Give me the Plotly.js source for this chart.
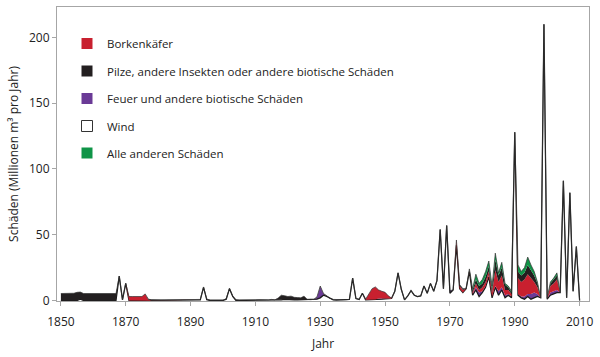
<!DOCTYPE html>
<html>
<head>
<meta charset="utf-8">
<script src="https://cdn.plot.ly/plotly-3.0.1.min.js"></script>
<style>
html,body{margin:0;padding:0;background:#fff;}
#chart{width:600px;height:357px;}
</style>
</head>
<body>
<div id="chart"></div>
<script>
// Years 1850 - 2010
var years = [
1850,1851,1852,1853,1854,1855,1856,1857,1858,1859,
1860,1861,1862,1863,1864,1865,1866,1867,1868,1869,
1870,1871,1872,1873,1874,1875,1876,1877,1878,1879,
1880,1881,1882,1883,1884,1885,1886,1887,1888,1889,
1890,1891,1892,1893,1894,1895,1896,1897,1898,1899,
1900,1901,1902,1903,1904,1905,1906,1907,1908,1909,
1910,1911,1912,1913,1914,1915,1916,1917,1918,1919,
1920,1921,1922,1923,1924,1925,1926,1927,1928,1929,
1930,1931,1932,1933,1934,1935,1936,1937,1938,1939,
1940,1941,1942,1943,1944,1945,1946,1947,1948,1949,
1950,1951,1952,1953,1954,1955,1956,1957,1958,1959,
1960,1961,1962,1963,1964,1965,1966,1967,1968,1969,
1970,1971,1972,1973,1974,1975,1976,1977,1978,1979,
1980,1981,1982,1983,1984,1985,1986,1987,1988,1989,
1990,1991,1992,1993,1994,1995,1996,1997,1998,1999,
2000,2001,2002,2003,2004,2005,2006,2007,2008,2009,2010];

// Wind (bottom of the stack)
var wind = [
0,0,0,0,0,0,1,0,0,0,
0,0,0,0,0,0,0,0,18.5,0.5,
13,0,0,0,0,0,0.5,0,0,0,
0,0,0,0,0,0,0,0,0,0,
0,0,0,0.5,10,0.5,0,0,0,0,
0,1,9,3,0,0,0,0,0,0,
0,0,0,0,0,0,0,0.3,0.5,0.8,
0.5,0.5,0.4,0.4,0.5,0.5,0.3,0.3,0.5,1,
2,4,3,1.5,0.5,0.3,0.3,0.3,0.3,0.8,
17,1.5,0.8,5.5,0.5,0.5,0.5,0.8,1,1,
1.2,1.2,1.5,7,21,8.5,0.5,3.5,7.5,4,
3,3.5,11,5.5,13,7,15,54,9,57,
5.5,8,42,9,6,9,22,4,8,3,
6,10,18,2,10,4,8,2,4,2,
128,4,2,1,3,1,2,3,2,210,
1,4,5,6,6,91,2,82,7,41,0];

// Feuer und andere biotische Schäden
var feuer = [
0,0,0,0,0,0,0,0,0,0,
0,0,0,0,0,0,0,0,0,0,
0,0,0,0,0,0,0,0,0,0,
0,0,0,0,0,0,0,0,0,0,
0,0,0,0,0,0,0,0,0,0,
0,0,0,0,0,0,0,0,0,0,
0,0,0,0,0,0,0,0,0,0,
0,0,0,0,0,0,0,0,0,1.5,
8.5,1,0,0,0,0,0,0,0,0,
0,0,0,0,0,0,0,0,0.5,0.5,
0.5,0.3,0,0,0,0,0,0,0,0,
0,0,0,0,0,0,0,0,0,0,
2,0,0,0,0,0,0.5,1,2,3,
1,1,1,1,1,3,2,2,1,1,
0,1,1,2,2,4,4,2,0,0,
0.5,2,2,2,0,0,0,0,0,0,0];

// Borkenkäfer
var borken = [
0,0,0,0,0,0,0,0,0,0,
0,0,0,0,0,0,0,0,0,0,
0,3,3,3,3,3,4.5,0.5,0,0,
0,0,0,0,0,0,0,0,0,0,
0,0,0,0,0,0,0,0,0,0,
0,0,0,0,0,0,0,0,0,0,
0,0,0,0,0,0,0,0,0,0,
0,0,0,0,0,0,0,0,0,0,
0,0,0,0,0,0,0,0,0,0,
0,0,0,0,0.5,5,8.5,9.5,6.5,5.5,
4.5,2,0.3,0,0,0,0,0,0,0,
0,0,0,0,0,0,0,0,0,0,
0,0,4,2,2,0,0.5,1,3,2,
3,3,3,3,12,7,9,4,3,2,
0,12,11,13,15,12,8,5,0,0,
0.3,5,6,8,0,0,0,0,0,0,0];

// Pilze, andere Insekten oder andere biotische Schäden
var pilze = [
5.3,5.3,5.4,5.4,5.5,6.2,5.4,5.3,5.3,5.3,
5.3,5.3,5.3,5.3,5.3,5.3,5.3,5.3,0,0,
0,0,0,0,0,0,0,0.5,0.5,0.3,
0.3,0.3,0.3,0.3,0.3,0.3,0.6,0.3,0.5,0.4,
0.8,0.6,0.4,0.3,0.3,0.6,0.3,0.4,0.3,0.4,
0.3,0.3,0.3,0.5,0.6,0.4,0.3,0.4,0.5,0.3,
0.4,0.5,0.3,0.3,0.4,0.8,0.5,1.5,3.5,2.8,
2.5,2.8,2,1.8,1.5,2.8,0.5,0.3,0.3,0.3,
0.5,0.3,0.3,0.3,0.3,0.3,0.3,0.3,0.3,0,
0,0,0,0,0,0,0,0,0,0,
0,0,0,0,0,0,0,0,0,0,
0,0,0,0,0,0,0,0,0,0,
0,0,0,1,1,0,0.5,2,3,3,
3,4,4,3,8,5,6,4,2,1,
0,5,5,5,7,6,5,3,0,0,
0.2,2,3,3,0,0,0,0,0,0,0];

// Alle anderen Schäden
var andere = [
0,0,0,0,0,0,0,0,0,0,
0,0,0,0,0,0,0,0,0,0,
0,0,0,0,0,0,0,0,0,0,
0,0,0,0,0,0,0,0,0,0,
0,0,0,0,0,0,0,0,0,0,
0,0,0,0,0,0,0,0,0,0,
0,0,0,0,0,0,0,0,0,0,
0,0,0,0,0,0,0,0,0,0,
0,0,0,0,0,0,0,0,0,0,
0,0,0,0,0,0,0,0,0,0,
0,0,0,0,0,0,0,0,0,0,
0,0,0,0,0,0,0,0,0,0,
0,0,0,0,0,0,0.5,1,4,2,
3,4,4,2,5,2,4,1,1,1,
0,5,3,4,6,4,3,1,0,0,
0,1,1,2,0,0,0,0,0,0,0];

var xTicks = [1850,1870,1890,1910,1930,1950,1970,1990,2010];
var yTicks = [0,50,100,150,200];

var legendNames = ['Borkenkäfer','Pilze, andere Insekten oder andere biotische Schäden','Feuer und andere biotische Schäden','Wind','Alle anderen Schäden'];

var C_RED = '#c8202f', C_BLACK = '#231f20', C_PURPLE = '#6a3a96', C_GREEN = '#0f9447';
var FONT = 'Open Sans, Noto Sans, DejaVu Sans, sans-serif';
var FS = 11.5;

function area(y, name, fill, lw, lc) {
  return {x: years, y: y, name: name, type: 'scatter', mode: 'lines', stackgroup: 'one',
          line: {color: lc, width: lw, shape: 'linear'}, fillcolor: fill, showlegend: false, hoverinfo: 'skip'};
}

var data = [
  area(wind, 'Wind', '#ffffff', 1.25, '#1a1a1a'),
  area(feuer, 'Feuer und andere biotische Schäden', C_PURPLE, 0, C_PURPLE),
  area(borken, 'Borkenkäfer', C_RED, 0, C_RED),
  area(pilze, 'Pilze, andere Insekten oder andere biotische Schäden', C_BLACK, 0, C_BLACK),
  area(andere, 'Alle anderen Schäden', C_GREEN, 0.7, '#333333')
];

// plot area in pixels
var L = 57, R = 589, T = 7, B = 301;
function px(x){ return (x - L) / (R - L); }
function py(y){ return (B - y) / (B - T); }

var legColors = [C_RED, C_BLACK, C_PURPLE, '#ffffff', C_GREEN];
var legY = [43.5, 71, 98.5, 126, 153];
var shapes = [], annotations = [];
for (var i = 0; i < legendNames.length; i++) {
  shapes.push({type:'rect', xref:'paper', yref:'paper',
    x0: px(81.5), x1: px(92.5), y0: py(legY[i] + 5.5), y1: py(legY[i] - 5.5),
    fillcolor: legColors[i], line: {color: i === 3 ? '#333' : legColors[i], width: i === 3 ? 1 : 0}});
  annotations.push({xref:'paper', yref:'paper', x: px(105), y: py(legY[i]), xanchor:'left', yanchor:'middle',
    text: legendNames[i], showarrow:false, font:{family: FONT, size: FS, color:'#222'}});
}

var layout = {
  width: 600, height: 357,
  margin: {l: L, r: 600 - R, t: T, b: 357 - B},
  paper_bgcolor: '#ffffff', plot_bgcolor: '#ffffff',
  font: {family: FONT, size: FS, color: '#222'},
  showlegend: false,
  xaxis: {range: [1848.8, 2012.9], tickvals: xTicks, ticktext: xTicks.map(String),
          ticks: 'outside', ticklen: 4, tickcolor: '#a6a6a6', showline: true, linecolor: '#a6a6a6',
          linewidth: 1, mirror: true, showgrid: false, zeroline: false, ticklabelstandoff: 6,
          tickfont: {family: FONT, size: 12, color: '#222'},
          title: {text: 'Jahr', font: {family: FONT, size: 12, color: '#222'}, standoff: 10}},
  yaxis: {range: [-0.4, 223.2], tickvals: yTicks, ticktext: yTicks.map(String),
          ticks: 'outside', ticklen: 4, tickcolor: '#a6a6a6', showline: true, linecolor: '#a6a6a6',
          linewidth: 1, mirror: true, showgrid: false, zeroline: false,
          tickfont: {family: FONT, size: 12, color: '#222'},
          title: {text: 'Schäden (Millionen m³ pro Jahr)', font: {family: FONT, size: 12, color: '#222'}, standoff: 7}},
  shapes: shapes,
  annotations: annotations
};

Plotly.newPlot('chart', data, layout, {staticPlot: true, displayModeBar: false});
</script>
</body>
</html>
